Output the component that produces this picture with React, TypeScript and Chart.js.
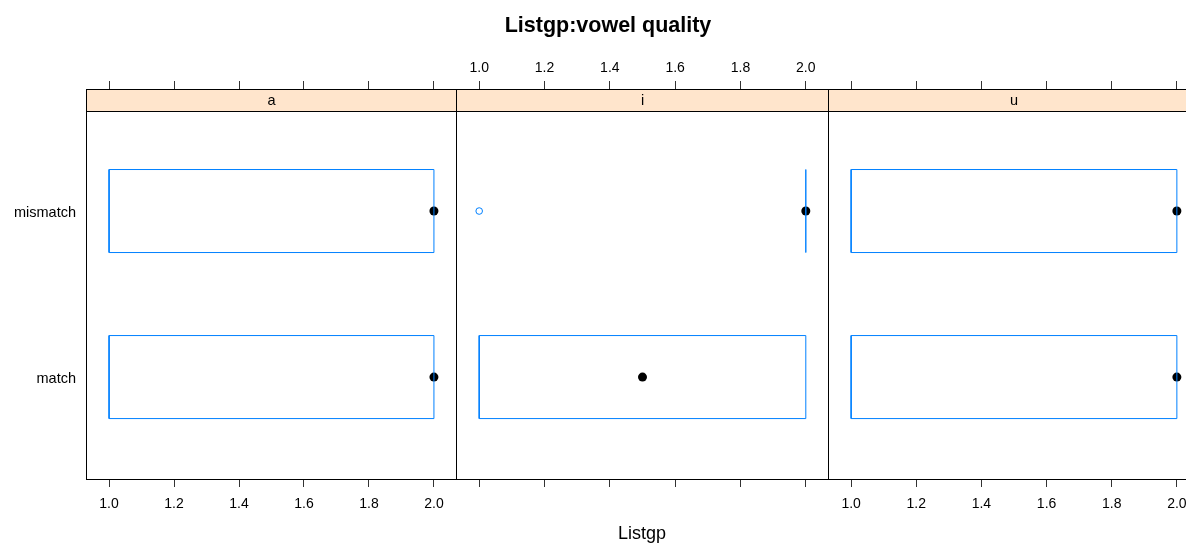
import React, { useEffect, useRef } from "react";
import { Chart, registerables } from "chart.js";

Chart.register(...registerables);

// ---- data ----
const panels = ["a", "i", "u"];
const groups = ["match", "mismatch"];
const xTicks = [1.0, 1.2, 1.4, 1.6, 1.8, 2.0];
// per panel, per group (match, mismatch)
const lowerWhisker = [[1, 1], [1, 2], [1, 1]];
const q1 = [[1, 1], [1, 2], [1, 1]];
const medians = [[2, 2], [1.5, 2], [2, 2]];
const q3 = [[2, 2], [2, 2], [2, 2]];
const upperWhisker = [[2, 2], [2, 2], [2, 2]];
const outliers = [[[], []], [[], [1]], [[], []]];

const title = "Listgp:vowel quality";
const xLabel = "Listgp";

const FONT = "'Liberation Sans', Arial, sans-serif";
const BLUE = "#0080ff";
const STRIP = "#ffe5cc";

const X_MIN = 0.929;
const X_MAX = 2.071;
const Y_MIN = 0.386;
const Y_MAX = 2.735;
const STRIP_BOTTOM = 2.6;
const HALF = 0.25;

const layout = [
  { left: 0, width: 457, yAxis: true, topLabels: false, bottomLabels: true },
  { left: 456, width: 373, yAxis: false, topLabels: true, bottomLabels: false },
  { left: 828, width: 372, yAxis: false, topLabels: false, bottomLabels: true },
];

function buildDatasets(p: number) {
  const ds: any[] = [];
  groups.forEach((g, k) => {
    const c = k + 1;
    const lo = q1[p][k];
    const hi = q3[p][k];
    ds.push({
      label: `box ${g}`,
      data: [
        { x: lo, y: c - HALF },
        { x: hi, y: c - HALF },
        { x: hi, y: c + HALF },
        { x: lo, y: c + HALF },
        { x: lo, y: c - HALF },
      ],
      showLine: true,
      borderColor: BLUE,
      borderWidth: 1,
      pointRadius: 0,
      fill: false,
      tension: 0,
    });
    if (lowerWhisker[p][k] < lo) {
      ds.push({
        label: `lw ${g}`,
        data: [
          { x: lowerWhisker[p][k], y: c },
          { x: lo, y: c },
        ],
        showLine: true,
        borderColor: BLUE,
        borderWidth: 1,
        borderDash: [4, 3],
        pointRadius: 0,
      });
    }
    if (upperWhisker[p][k] > hi) {
      ds.push({
        label: `uw ${g}`,
        data: [
          { x: hi, y: c },
          { x: upperWhisker[p][k], y: c },
        ],
        showLine: true,
        borderColor: BLUE,
        borderWidth: 1,
        borderDash: [4, 3],
        pointRadius: 0,
      });
    }
    ds.push({
      label: `median ${g}`,
      data: [{ x: medians[p][k], y: c }],
      pointRadius: 4.5,
      pointBackgroundColor: "#000",
      pointBorderWidth: 0,
      pointBorderColor: "#000",
    });
    if (outliers[p][k].length) {
      ds.push({
        label: `out ${g}`,
        data: outliers[p][k].map((v) => ({ x: v, y: c })),
        pointRadius: 3.3,
        pointBackgroundColor: "rgba(255,255,255,0)",
        pointBorderColor: BLUE,
        pointBorderWidth: 1,
      });
    }
  });
  return ds;
}

const setXTicks = (scale: any) => {
  scale.ticks = xTicks.map((v) => ({ value: v }));
};

function Panel({ p }: { p: number }) {
  const ref = useRef<HTMLCanvasElement>(null);
  useEffect(() => {
    const L = layout[p];
    const stripPlugin = {
      id: "strip",
      afterDatasetsDraw(chart: any) {
        const { ctx, chartArea } = chart;
        const ys = chart.scales.y;
        const sb = Math.round(ys.getPixelForValue(STRIP_BOTTOM)) + 0.5;
        const l = Math.round(chartArea.left) + 0.5;
        const r = Math.round(chartArea.right) - 0.5;
        const t = Math.round(chartArea.top) + 0.5;
        const b = Math.round(chartArea.bottom) + 0.5;
        ctx.save();
        ctx.fillStyle = STRIP;
        ctx.fillRect(l, t, r - l, sb - t);
        ctx.strokeStyle = "#000";
        ctx.lineWidth = 1;
        ctx.beginPath();
        ctx.moveTo(l, sb);
        ctx.lineTo(r, sb);
        ctx.stroke();
        ctx.strokeRect(l, t, r - l, b - t);
        ctx.fillStyle = "#000";
        ctx.font = `14.5px ${FONT}`;
        ctx.textAlign = "center";
        ctx.textBaseline = "middle";
        ctx.fillText(panels[p], (l + r) / 2, (t + sb) / 2);
        ctx.restore();
      },
    };
    const tickFont = { family: FONT, size: 14 };
    const fitX = (h: number) => (s: any) => {
      s.height = h;
      s.paddingLeft = 0;
      s.paddingRight = 0;
    };
    const chart = new Chart(ref.current!, {
      type: "scatter",
      data: { datasets: buildDatasets(p) },
      plugins: [stripPlugin],
      options: {
        animation: false,
        responsive: false,
        maintainAspectRatio: false,
        layout: { padding: 0, autoPadding: false },
        plugins: { legend: { display: false }, tooltip: { enabled: false }, title: { display: false } },
        scales: {
          x: {
            type: "linear",
            position: "bottom",
            min: X_MIN,
            max: X_MAX,
            afterBuildTicks: setXTicks,
            afterFit: fitX(65),
            grid: { drawOnChartArea: false, drawTicks: true, tickLength: 8, tickColor: "#333" },
            border: { display: false },
            ticks: {
              display: L.bottomLabels,
              color: "#000",
              font: tickFont,
              padding: 9,
              maxRotation: 0,
              autoSkip: false,
              callback: (v: any) => Number(v).toFixed(1),
            },
          },
          x2: {
            type: "linear",
            axis: "x",
            position: "top",
            min: X_MIN,
            max: X_MAX,
            afterBuildTicks: setXTicks,
            afterFit: fitX(89),
            grid: { drawOnChartArea: false, drawTicks: true, tickLength: 8, tickColor: "#333" },
            border: { display: false },
            ticks: {
              display: L.topLabels,
              color: "#000",
              font: tickFont,
              padding: 4,
              maxRotation: 0,
              autoSkip: false,
              callback: (v: any) => Number(v).toFixed(1),
            },
          },
          y: {
            type: "linear",
            display: L.yAxis,
            min: Y_MIN,
            max: Y_MAX,
            afterBuildTicks: (s: any) => {
              s.ticks = groups.map((_, k) => ({ value: k + 1 }));
            },
            afterFit: (s: any) => {
              s.width = L.yAxis ? 86 : 0;
              s.paddingTop = 0;
              s.paddingBottom = 0;
            },
            grid: { display: false, drawTicks: false },
            border: { display: false },
            ticks: {
              color: "#000",
              font: { family: FONT, size: 14.5 },
              padding: 10,
              labelOffset: 2,
              autoSkip: false,
              callback: (v: any) => groups[Math.round(Number(v)) - 1] ?? "",
            },
          },
        },
      } as any,
    });
    return () => chart.destroy();
  }, [p]);
  const L = layout[p];
  return (
    <canvas
      ref={ref}
      width={L.width}
      height={544}
      style={{ position: "absolute", left: L.left, top: 0, width: L.width, height: 544 }}
    />
  );
}

export default function App() {
  useEffect(() => {
    document.body.style.margin = "0";
  }, []);
  return (
    <div
      style={{
        position: "absolute",
        left: 0,
        top: 0,
        width: 1186,
        height: 544,
        overflow: "hidden",
        background: "#fff",
        fontFamily: FONT,
      }}
    >
      {panels.map((_, p) => (
        <Panel key={p} p={p} />
      ))}
      <div
        style={{
          position: "absolute",
          left: 0,
          top: 14.8,
          width: 1216,
          textAlign: "center",
          fontSize: 21.5,
          lineHeight: 1,
          fontWeight: "bold",
          color: "#000",
          whiteSpace: "nowrap",
        }}
      >
        {title}
      </div>
      <div
        style={{
          position: "absolute",
          left: 442,
          top: 539 - 15.2,
          width: 400,
          textAlign: "center",
          fontSize: 18,
          lineHeight: 1,
          color: "#000",
          whiteSpace: "nowrap",
        }}
      >
        {xLabel}
      </div>
    </div>
  );
}
